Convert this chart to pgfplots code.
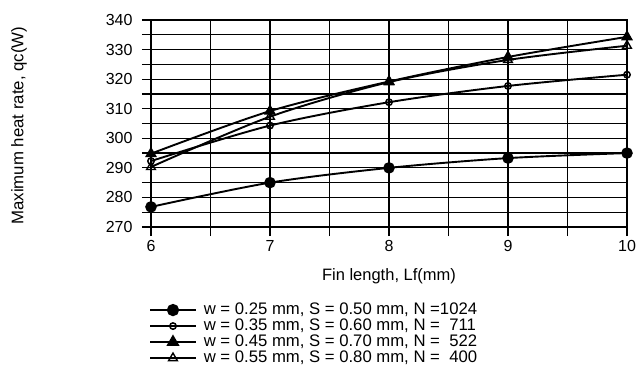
\documentclass[border=0pt]{standalone}
\usepackage{fontspec}
\setmainfont{Liberation Sans}
\usepackage{pgfplots}
\pgfplotsset{compat=1.18}
\begin{document}
\begin{tikzpicture}
\path[use as bounding box] (-151bp,-142bp) rectangle (486bp,227bp);
\begin{axis}[
  at={(0,0)}, anchor=south west,
  scale only axis, width=476bp, height=207bp,
  xmin=6, xmax=10, ymin=270, ymax=340,
  xtick={6,7,8,9,10}, ytick={270,280,...,340},
  minor xtick={6.5,7.5,8.5,9.5}, minor ytick={275,285,...,335},
  grid=both,
  major grid style={black, line width=1.2bp},
  minor grid style={black, line width=1.2bp},
  axis line style={line width=1.8bp},
  xtick pos=bottom, ytick pos=left, tick align=outside,
  major tick length=9bp, minor tick length=9bp,
  tick style={black, line width=1.2bp},
  /pgf/number format/assume math mode=true,
  ticklabel style={font=\fontsize{16bp}{18bp}\selectfont},
  yticklabel style={xshift=-6bp},
  xticklabel style={yshift=-1bp},
  xlabel={Fin length, Lf(mm)},
  ylabel={Maximum heat rate, qc(W)},
  label style={font=\fontsize{16.5bp}{18bp}\selectfont},
  xlabel style={at={(axis description cs:0.5,-0.237)}, anchor=center},
  ylabel style={at={(axis description cs:-0.277,0.49)}, anchor=center, font=\fontsize{16.8bp}{18bp}\selectfont},
  legend style={at={(axis description cs:-0.0105,-0.352)}, anchor=north west, draw=none, fill=none,
    font=\fontsize{16.7bp}{18bp}\selectfont, row sep=0bp, column sep=6bp,
    nodes={inner sep=1bp, text height=11.5bp, text depth=2.5bp}},
  legend cell align=left,
  legend image code/.code={\draw[mark repeat=2,mark phase=2,#1,line width=2.6bp] plot coordinates {(0bp,0bp) (22.5bp,0bp) (45bp,0bp)};},
  every axis plot/.append style={black, line width=1.9bp, smooth},
]
\addplot[mark=*, mark size=4.8bp] coordinates {(6,276.8) (7,285) (8,290) (9,293.3) (10,295)};
\addlegendentry{w = 0.25 mm, S = 0.50 mm, N =1024}
\addplot[mark=o, mark size=3.2bp, mark options={line width=1.5bp}] coordinates {(6,292.3) (7,304.3) (8,312.2) (9,317.7) (10,321.5)};
\addlegendentry{w = 0.35 mm, S = 0.60 mm, N =\phantom{1}711}
\addplot[mark=triangle*, mark size=5bp] coordinates {(6,294.8) (7,309.2) (8,319.2) (9,327.5) (10,334.3)};
\addlegendentry{w = 0.45 mm, S = 0.70 mm, N =\phantom{1}522}
\addplot[mark=triangle, mark size=5bp, mark options={line width=1.4bp}] coordinates {(6,290.3) (7,307.3) (8,319) (9,326.5) (10,331.3)};
\addlegendentry{w = 0.55 mm, S = 0.80 mm, N =\phantom{1}400}
\end{axis}
\end{tikzpicture}
\end{document}
